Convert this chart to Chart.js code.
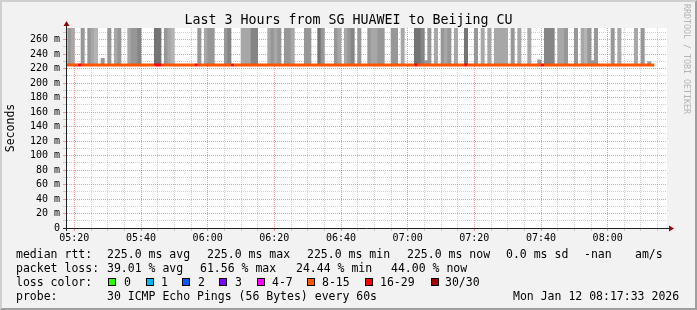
<!DOCTYPE html>
<html lang="en">
<head>
<meta charset="UTF-8" />
<title>SmokePing - SG HUAWEI to Beijing CU</title>
<script src="https://cdn.jsdelivr.net/npm/chart.js"></script>
<style>
  * { margin: 0; padding: 0; box-sizing: border-box; }
  html, body { width: 697px; height: 310px; overflow: hidden; background: #f2f2f2;
    font-family: 'DejaVu Sans Mono', monospace; color: #000; }
  .frame { position: absolute; left: 0; top: 0; width: 697px; height: 310px; pointer-events: none;
    border-top: 2px solid #cfcfcf; border-left: 2px solid #cfcfcf;
    border-right: 2px solid #9e9e9e; border-bottom: 2px solid #9e9e9e; }
  .title { position: absolute; left: 0; top: 12px; width: 697px; text-align: center;
    font-size: 13.3px; line-height: 16px; }
  .chart-box { position: absolute; left: 0; top: 0; width: 697px; height: 250px; }
  .credit { position: absolute; left: 682px; top: 4px; writing-mode: vertical-rl;
    font-size: 8.3px; line-height: 10px; color: #b4b4b4; }
  .t { position: absolute; font-size: 11.5px; line-height: 14px; white-space: pre; }
  .sw { position: absolute; top: 278px; width: 8px; height: 8px; border: 1px solid #000; }
</style>
</head>
<body>
  <div class="chart-box"><canvas id="chart"></canvas></div>
  <div class="title">Last 3 Hours from SG HUAWEI to Beijing CU</div>
  <div class="credit">RRDTOOL / TOBI OETIKER</div>

  <!-- legend rows -->
  <div class="t" style="left:16px;top:247px">median rtt:</div>
  <div class="t" style="left:107px;top:247px">225.0 ms avg</div>
  <div class="t" style="left:207px;top:247px">225.0 ms max</div>
  <div class="t" style="left:307px;top:247px">225.0 ms min</div>
  <div class="t" style="left:407px;top:247px">225.0 ms now</div>
  <div class="t" style="left:506px;top:247px">0.0 ms sd</div>
  <div class="t" style="left:584px;top:247px">-nan</div>
  <div class="t" style="left:635px;top:247px">am/s</div>

  <div class="t" style="left:16px;top:261px">packet loss:</div>
  <div class="t" style="left:107px;top:261px">39.01 % avg</div>
  <div class="t" style="left:200px;top:261px">61.56 % max</div>
  <div class="t" style="left:296px;top:261px">24.44 % min</div>
  <div class="t" style="left:391px;top:261px">44.00 % now</div>

  <div class="t" style="left:16px;top:275px">loss color:</div>
  <div class="sw" style="left:108px;background:#26ff00"></div><div class="t" style="left:124px;top:275px">0</div>
  <div class="sw" style="left:146px;background:#00b8ff"></div><div class="t" style="left:161px;top:275px">1</div>
  <div class="sw" style="left:182px;background:#0059ff"></div><div class="t" style="left:198px;top:275px">2</div>
  <div class="sw" style="left:219px;background:#7e00ff"></div><div class="t" style="left:235px;top:275px">3</div>
  <div class="sw" style="left:257px;background:#ff00ff"></div><div class="t" style="left:272px;top:275px">4-7</div>
  <div class="sw" style="left:307px;background:#ff5500"></div><div class="t" style="left:322px;top:275px">8-15</div>
  <div class="sw" style="left:365px;background:#ff0000"></div><div class="t" style="left:380px;top:275px">16-29</div>
  <div class="sw" style="left:431px;background:#a10000"></div><div class="t" style="left:445px;top:275px">30/30</div>

  <div class="t" style="left:16px;top:289px">probe:</div>
  <div class="t" style="left:107px;top:289px">30 ICMP Echo Pings (56 Bytes) every 60s</div>
  <div class="t" style="left:513px;top:289px">Mon Jan 12 08:17:33 2026</div>

  <div class="frame"></div>

<script>
  // x values are minutes after 05:00
  const xStart = 17.8, xEnd = 197.8;
  const yMax = 276;

  const timeTicks = [20, 40, 60, 80, 100, 120, 140, 160, 180];
  const timeLabels = ['05:20', '05:40', '06:00', '06:20', '06:40', '07:00', '07:20', '07:40', '08:00'];
  const rttTicks = [0, 20, 40, 60, 80, 100, 120, 140, 160, 180, 200, 220, 240, 260];
  const rttLabels = ['0', '20 m', '40 m', '60 m', '80 m', '100 m', '120 m', '140 m', '160 m', '180 m', '200 m', '220 m', '240 m', '260 m'];

  // median rtt (ms) is flat; data runs from minute 17 to minute 194
  const medianRtt = 225;
  const firstMinute = 17, lastMinute = 194;
  // minutes where 16-29 of 30 pings were lost (rest of the line is 8-15)
  const highLossMinutes = [21, 44, 45, 56, 67, 122, 137, 160];

  // smoke: minute, top of the ping spread (ms), density shade 1 (light) .. 5 (dark)
  const smokeMinute = [18, 19, 22, 24, 25, 26, 28, 30, 32, 33, 36, 37, 38, 39,
    44, 45, 47, 48, 49, 57, 59, 60, 61, 65, 66, 70, 71, 72, 73, 74, 78, 79, 80, 81,
    83, 84, 85, 89, 90, 93, 94, 98, 99, 101, 102, 103, 105, 108, 109, 110, 111, 112,
    115, 116, 118, 122, 123, 124, 125, 126, 128, 130, 131, 132, 134, 137, 140, 142,
    144, 146, 147, 148, 149, 151, 153, 156, 159, 161, 162, 163, 165, 166, 167, 170,
    172, 173, 174, 175, 176, 181, 183, 188, 190, 192];
  const smokeTop = [320, 320, 320, 320, 320, 320, 234, 320, 320, 320, 320, 320, 320, 320,
    320, 320, 320, 320, 320, 320, 320, 320, 320, 320, 320, 320, 320, 320, 320, 320, 320, 320, 320, 320,
    320, 320, 320, 320, 320, 320, 320, 320, 320, 320, 320, 320, 320, 320, 320, 320, 320, 320,
    320, 320, 320, 320, 320, 320, 231, 320, 320, 320, 320, 320, 320, 320, 320, 320,
    320, 320, 320, 320, 320, 320, 320, 320, 232, 320, 320, 320, 320, 320, 320, 320,
    320, 320, 320, 231, 320, 320, 320, 320, 320, 229.5];
  const smokeDensity = [3, 2, 3, 3, 2, 1, 3, 3, 2, 3, 2, 3, 3, 4,
    5, 5, 3, 2, 1, 3, 2, 3, 3, 3, 4, 2, 2, 2, 4, 4, 2, 3, 2, 3,
    3, 3, 2, 3, 3, 5, 3, 3, 2, 2, 3, 4, 3, 3, 2, 2, 3, 3,
    3, 3, 2, 5, 5, 4, 3, 3, 2, 3, 2, 3, 2, 5, 3, 2,
    2, 2, 2, 2, 2, 3, 2, 2, 3, 4, 4, 4, 2, 2, 3, 3,
    2, 1, 3, 3, 3, 3, 2, 2, 3, 3];

  const shade = { 1: '#b4b4b4', 2: '#a7a7a7', 3: '#979797', 4: '#858585', 5: '#747474' };
  const lossOrange = '#ff5500', lossRed = '#ff0000';
  const majorGrid = 'rgba(235,70,70,0.55)', minorGrid = 'rgba(150,150,150,0.45)';
  const mono = 'DejaVu Sans Mono';

  const smokeData = smokeMinute.map((m, i) => ({ x: m + 0.5, y: [medianRtt, smokeTop[i]] }));
  const lineData = [];
  for (let m = firstMinute; m <= lastMinute; m++) lineData.push({ x: m, y: medianRtt });

  const gridColor = c => (c.tick && c.tick.value % 20 === 0) ? majorGrid : minorGrid;

  // white canvas area plus rrdtool style axes with arrow heads
  const rrdAxes = {
    id: 'rrdAxes',
    beforeDraw(chart) {
      const { ctx, chartArea: a } = chart;
      ctx.save();
      ctx.fillStyle = '#fff';
      ctx.fillRect(a.left, a.top, a.right - a.left, a.bottom - a.top);
      ctx.restore();
    },
    afterDraw(chart) {
      const { ctx, chartArea: a } = chart;
      ctx.save();
      ctx.strokeStyle = '#222';
      ctx.lineWidth = 1;
      ctx.beginPath();
      ctx.moveTo(a.left - 4, a.bottom + 0.5); ctx.lineTo(a.right + 3, a.bottom + 0.5);
      ctx.moveTo(a.left - 0.5, a.bottom + 3); ctx.lineTo(a.left - 0.5, a.top - 3);
      ctx.stroke();
      ctx.fillStyle = '#8b0a0a';
      ctx.beginPath();
      ctx.moveTo(a.left - 3.5, a.top - 2); ctx.lineTo(a.left + 2.5, a.top - 2); ctx.lineTo(a.left - 0.5, a.top - 7);
      ctx.closePath(); ctx.fill();
      ctx.beginPath();
      ctx.moveTo(a.right + 2, a.bottom - 2.5); ctx.lineTo(a.right + 2, a.bottom + 3.5); ctx.lineTo(a.right + 7, a.bottom + 0.5);
      ctx.closePath(); ctx.fill();
      ctx.restore();
    }
  };

  new Chart(document.getElementById('chart'), {
    type: 'bar',
    data: {
      datasets: [
        {
          type: 'line',
          data: lineData,
          borderWidth: 3,
          borderCapStyle: 'butt',
          pointRadius: 0,
          clip: 0,
          order: 0,
          segment: {
            borderColor: c => highLossMinutes.includes(c.p0.parsed.x) ? lossRed : lossOrange
          },
          borderColor: lossOrange
        },
        {
          type: 'bar',
          data: smokeData,
          backgroundColor: c => shade[smokeDensity[c.dataIndex]],
          borderWidth: 0,
          barPercentage: 1,
          categoryPercentage: 1,
          grouped: false,
          clip: 0,
          order: 1
        }
      ]
    },
    options: {
      responsive: true,
      maintainAspectRatio: false,
      animation: false,
      events: [],
      layout: { autoPadding: false, padding: { top: 28, right: 30, left: 0, bottom: 0 } },
      plugins: { legend: { display: false }, tooltip: { enabled: false } },
      scales: {
        x: {
          type: 'linear',
          offset: false,
          min: xStart,
          max: xEnd,
          afterFit: s => { s.height = 22; },
          afterBuildTicks: s => {
            const t = [];
            for (let v = 20; v < xEnd; v += 5) t.push({ value: v });
            s.ticks = t;
          },
          ticks: {
            autoSkip: false, maxRotation: 0, padding: 1, color: '#000',
            font: { family: mono, size: 10 },
            callback: v => {
              const i = timeTicks.indexOf(v);
              return i >= 0 ? timeLabels[i] : '';
            }
          },
          grid: { offset: false, color: gridColor, tickLength: 3, borderDash: [1, 1] },
          border: { display: false, dash: [1, 1] }
        },
        y: {
          type: 'linear',
          min: 0,
          max: yMax,
          afterFit: s => { s.width = 67; },
          afterBuildTicks: s => {
            const t = [];
            for (let v = 0; v < yMax; v += 10) t.push({ value: v });
            s.ticks = t;
          },
          ticks: {
            autoSkip: false, padding: 3, color: '#000',
            font: { family: mono, size: 10 },
            callback: v => {
              const i = rttTicks.indexOf(v);
              return i >= 0 ? rttLabels[i] : '';
            }
          },
          grid: { color: gridColor, tickLength: 4, borderDash: [1, 1] },
          border: { display: false, dash: [1, 1] },
          title: {
            display: true, text: 'Seconds', color: '#000',
            font: { family: mono, size: 11.5 }, padding: { top: 4, bottom: 0 }
          }
        }
      }
    },
    plugins: [rrdAxes]
  });
</script>
</body>
</html>
